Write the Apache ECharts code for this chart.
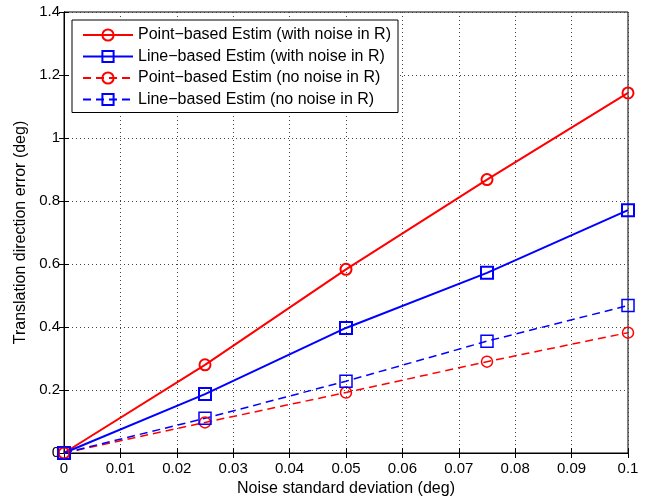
<!DOCTYPE html>
<html>
<head>
<meta charset="utf-8">
<script src="https://cdn.jsdelivr.net/npm/echarts@6/dist/echarts.min.js"></script>
<style>
  html, body { margin: 0; padding: 0; background: #fff; }
  #chart { width: 647px; height: 499px; }
</style>
</head>
<body>
<div id="chart"></div>
<script>
const noiseStd = [0, 0.025, 0.05, 0.075, 0.1]
const pointWithNoise = [0, 0.280, 0.583, 0.868, 1.143]
const lineWithNoise = [0, 0.187, 0.397, 0.572, 0.771]
const pointNoNoise = [0, 0.097, 0.192, 0.290, 0.382]
const lineNoNoise = [0, 0.110, 0.228, 0.355, 0.468]

const seriesNames = [
  'Point\u2212based Estim (with noise in R)',
  'Line\u2212based Estim (with noise in R)',
  'Point\u2212based Estim (no noise in R)',
  'Line\u2212based Estim (no noise in R)'
]

const font = 'Liberation Sans, Arial, sans-serif'
const pairs = ys => noiseStd.map((x, i) => [x, ys[i]])

const makeSeries = (name, ys, color, symbol, dashed) => ({
  name,
  type: 'line',
  data: pairs(ys),
  symbol,
  symbolSize: symbol === 'circle' ? 11 : 12,
  showAllSymbol: true,
  lineStyle: {
    color,
    width: dashed ? 1.5 : 2,
    type: dashed ? [8, 5] : 'solid'
  },
  itemStyle: {
    color: 'rgba(255,255,255,0)',
    borderColor: color,
    borderWidth: dashed ? 1.5 : 2
  },
  emphasis: { disabled: true }
})

const chart = echarts.init(document.getElementById('chart'), null, { renderer: 'canvas' })

const option = {
  animation: false,
  backgroundColor: '#fff',
  grid: {
    left: 64, right: 19, top: 12, bottom: 46,
    outerBoundsMode: 'none',
    show: true, borderColor: '#000', borderWidth: 1
  },
  legend: {
    orient: 'vertical',
    left: 72, top: 20,
    padding: [7, 7, 5, 10],
    backgroundColor: '#fff',
    borderColor: '#000',
    borderWidth: 1,
    borderRadius: 0,
    itemWidth: 50,
    itemHeight: 14,
    itemGap: 5.5,
    textStyle: { fontFamily: font, fontSize: 16, color: '#000' },
    data: seriesNames
  },
  xAxis: [{
    type: 'value',
    min: 0, max: 0.1, interval: 0.01,
    name: 'Noise standard deviation (deg)',
    nameLocation: 'middle',
    nameGap: 27,
    nameTextStyle: { fontFamily: font, fontSize: 16, color: '#000' },
    axisLine: { show: true, lineStyle: { color: '#000', width: 1 } },
    axisTick: { show: true, inside: true, length: 5, lineStyle: { color: '#000' } },
    axisLabel: {
      fontFamily: font, fontSize: 15, color: '#000', margin: 8,
      formatter: v => String(+v.toFixed(2))
    },
    splitLine: { show: true, lineStyle: { color: '#444', width: 1, type: [1, 3] } }
  }, {
    type: 'value', position: 'top',
    min: 0, max: 0.1, interval: 0.01,
    axisLine: { show: true, lineStyle: { color: '#000' } },
    axisTick: { show: true, inside: true, length: 5, lineStyle: { color: '#000' } },
    axisLabel: { show: false },
    splitLine: { show: false }
  }],
  yAxis: [{
    type: 'value',
    min: 0, max: 1.4, interval: 0.2,
    name: 'Translation direction error (deg)',
    nameLocation: 'middle',
    nameGap: 34,
    nameTextStyle: { fontFamily: font, fontSize: 16, color: '#000' },
    axisLine: { show: true, lineStyle: { color: '#000', width: 1 } },
    axisTick: { show: true, inside: true, length: 5, lineStyle: { color: '#000' } },
    axisLabel: {
      fontFamily: font, fontSize: 15, color: '#000', margin: 4,
      formatter: v => String(+v.toFixed(1))
    },
    splitLine: { show: true, lineStyle: { color: '#444', width: 1, type: [1, 3] } }
  }, {
    type: 'value', position: 'right',
    min: 0, max: 1.4, interval: 0.2,
    axisLine: { show: true, lineStyle: { color: '#000' } },
    axisTick: { show: true, inside: true, length: 5, lineStyle: { color: '#000' } },
    axisLabel: { show: false },
    splitLine: { show: false }
  }],
  series: [
    makeSeries(seriesNames[0], pointWithNoise, '#ff0000', 'circle', false),
    makeSeries(seriesNames[1], lineWithNoise, '#0000ff', 'rect', false),
    makeSeries(seriesNames[2], pointNoNoise, '#ff0000', 'circle', true),
    makeSeries(seriesNames[3], lineNoNoise, '#0000ff', 'rect', true)
  ]
}

chart.setOption(option)
</script>
</body>
</html>
